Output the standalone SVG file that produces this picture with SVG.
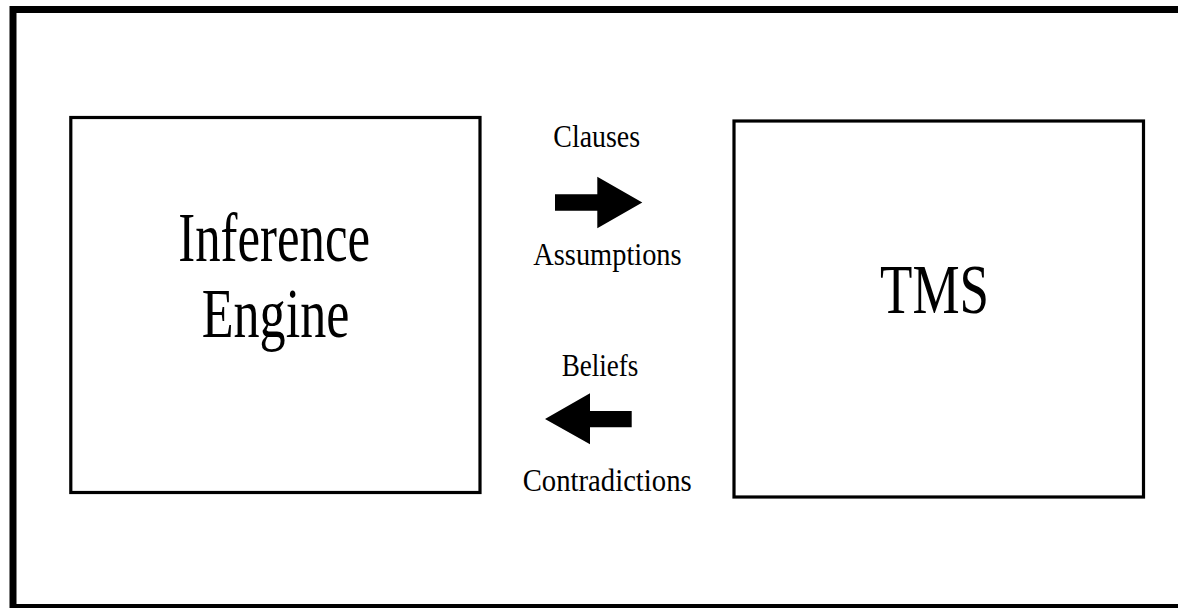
<svg xmlns="http://www.w3.org/2000/svg" width="1178" height="608" viewBox="0 0 1178 608">
  <style>
    .frame { fill: none; stroke: #000; stroke-width: 7; }
    .box { fill: #fff; stroke: #000; stroke-width: 3.2; }
    .big { font-family: "Liberation Serif", "Times New Roman", serif; font-size: 70px; fill: #000; }
    .small { font-family: "Liberation Serif", "Times New Roman", serif; font-size: 32px; fill: #000; }
    .arrow { fill: #000; stroke: none; }
  </style>
  <rect width="1178" height="608" fill="#fff"/>
  <!-- outer frame, right edge runs past the page -->
  <rect class="frame" x="13" y="9.5" width="1200" height="598"/>

  <g id="inference-engine">
    <rect class="box" x="70.8" y="117.5" width="409.2" height="375"/>
    <text class="big" x="178.3" y="261" textLength="191.7" lengthAdjust="spacingAndGlyphs">Inference</text>
    <text class="big" x="201.7" y="336.7" textLength="147.7" lengthAdjust="spacingAndGlyphs">Engine</text>
  </g>

  <g id="tms">
    <rect class="box" x="734" y="121" width="409.5" height="376"/>
    <text class="big" x="880" y="313" textLength="109" lengthAdjust="spacingAndGlyphs">TMS</text>
  </g>

  <g id="connectors">
    <g id="to-tms">
      <polygon class="arrow" points="555,194.3 597.3,194.3 597.3,176.7 642.3,202.5 597.3,228.3 597.3,210.7 555,210.7"/>
      <text class="small" x="553.3" y="146.7" textLength="86.7" lengthAdjust="spacingAndGlyphs">Clauses</text>
      <text class="small" x="533.3" y="265" textLength="148.3" lengthAdjust="spacingAndGlyphs">Assumptions</text>
    </g>
    <g id="to-engine">
      <polygon class="arrow" points="631.7,411 590,411 590,393.3 545,419 590,444.3 590,427.3 631.7,427.3"/>
      <text class="small" x="561.7" y="376" textLength="76.7" lengthAdjust="spacingAndGlyphs">Beliefs</text>
      <text class="small" x="522.7" y="490.7" textLength="169" lengthAdjust="spacingAndGlyphs">Contradictions</text>
    </g>
  </g>
</svg>
